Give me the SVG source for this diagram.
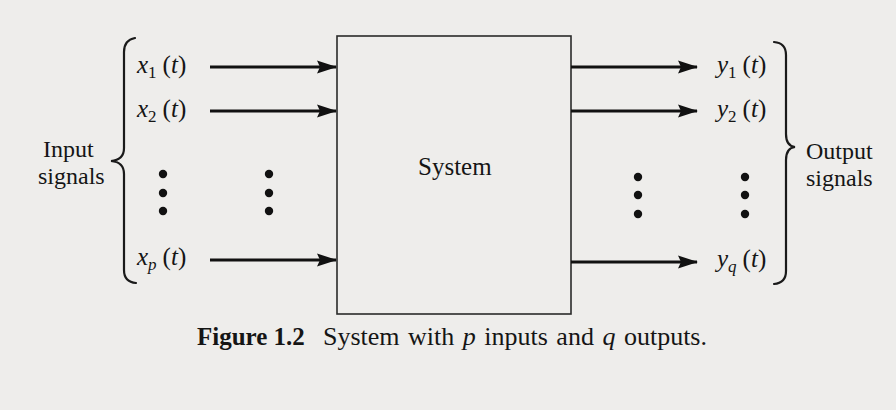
<svg xmlns="http://www.w3.org/2000/svg" width="896" height="410" viewBox="0 0 896 410">
<defs>
<marker id="ah" markerUnits="userSpaceOnUse" markerWidth="24" markerHeight="16" viewBox="-22 -8 24 16" refX="0" refY="0" orient="auto">
<path d="M1,0 L-19,-6.5 L-16,0 L-19,6.5 Z" fill="#111"/>
</marker>
<style>
.t{font-family:"Liberation Serif","Times New Roman",serif;fill:#151515}
.lab{font-size:25px}
.grp{font-size:24px}
.it{font-style:italic}
.sub{font-size:17px}
.arr{stroke:#111;stroke-width:2.8;fill:none;marker-end:url(#ah)}
.brace{stroke:#1a1a1a;stroke-width:2.2;fill:none;stroke-linecap:round}
.dot{fill:#111}
</style>
</defs>
<rect width="896" height="410" fill="#eeedeb"/>
<g id="system">
<rect x="337" y="36" width="234" height="278" fill="none" stroke="#2a2a2a" stroke-width="1.6"/>
<text class="t lab" x="418" y="175">System</text>
</g>
<g id="inputs">
<path class="brace" d="M135,38 Q124,40 124,52 L124,148 Q124,160 111,161 Q124,162 124,174 L124,270 Q124,282 136,283"/>
<text class="t grp" x="43" y="157">Input</text>
<text class="t grp" x="38" y="184">signals</text>
<text class="t lab" x="137" y="73"><tspan class="it">x</tspan><tspan class="sub" dy="5">1</tspan><tspan dy="-5" dx="6">(</tspan><tspan class="it">t</tspan>)</text>
<text class="t lab" x="137" y="117"><tspan class="it">x</tspan><tspan class="sub" dy="5">2</tspan><tspan dy="-5" dx="6">(</tspan><tspan class="it">t</tspan>)</text>
<text class="t lab" x="137" y="265"><tspan class="it">x</tspan><tspan class="sub it" dy="5">p</tspan><tspan dy="-5" dx="6">(</tspan><tspan class="it">t</tspan>)</text>
<circle class="dot" cx="163" cy="174" r="4.2"/>
<circle class="dot" cx="163" cy="193" r="4.2"/>
<circle class="dot" cx="163" cy="211" r="4.2"/>
<circle class="dot" cx="269" cy="174" r="4.2"/>
<circle class="dot" cx="269" cy="193" r="4.2"/>
<circle class="dot" cx="269" cy="211" r="4.2"/>
</g>
<g id="outputs">
<path class="brace" d="M774,42 Q786,43 786,55 L786,134 Q786,146 795,147 Q786,148 786,160 L786,271 Q786,283 774,284"/>
<text class="t grp" x="806" y="159">Output</text>
<text class="t grp" x="806" y="186">signals</text>
<text class="t lab" x="717" y="73"><tspan class="it">y</tspan><tspan class="sub" dy="5">1</tspan><tspan dy="-5" dx="6">(</tspan><tspan class="it">t</tspan>)</text>
<text class="t lab" x="717" y="117"><tspan class="it">y</tspan><tspan class="sub" dy="5">2</tspan><tspan dy="-5" dx="6">(</tspan><tspan class="it">t</tspan>)</text>
<text class="t lab" x="717" y="267"><tspan class="it">y</tspan><tspan class="sub it" dy="5">q</tspan><tspan dy="-5" dx="6">(</tspan><tspan class="it">t</tspan>)</text>
<circle class="dot" cx="638" cy="177" r="4.2"/>
<circle class="dot" cx="638" cy="195" r="4.2"/>
<circle class="dot" cx="638" cy="214" r="4.2"/>
<circle class="dot" cx="745" cy="177" r="4.2"/>
<circle class="dot" cx="745" cy="195" r="4.2"/>
<circle class="dot" cx="745" cy="214" r="4.2"/>
</g>
<g id="connectors">
<line class="arr" x1="210" y1="67" x2="336" y2="67"/>
<line class="arr" x1="210" y1="111" x2="336" y2="111"/>
<line class="arr" x1="210" y1="260" x2="336" y2="260"/>
<line class="arr" x1="571" y1="67" x2="697" y2="67"/>
<line class="arr" x1="571" y1="111" x2="697" y2="111"/>
<line class="arr" x1="571" y1="262" x2="697" y2="262"/>
</g>
<g id="caption">
<text class="t" x="197" y="345" font-size="25" font-weight="bold">Figure 1.2</text>
<text class="t" x="323" y="345" font-size="26" word-spacing="2">System with <tspan class="it">p</tspan> inputs and <tspan class="it">q</tspan> outputs.</text>
</g>
</svg>
